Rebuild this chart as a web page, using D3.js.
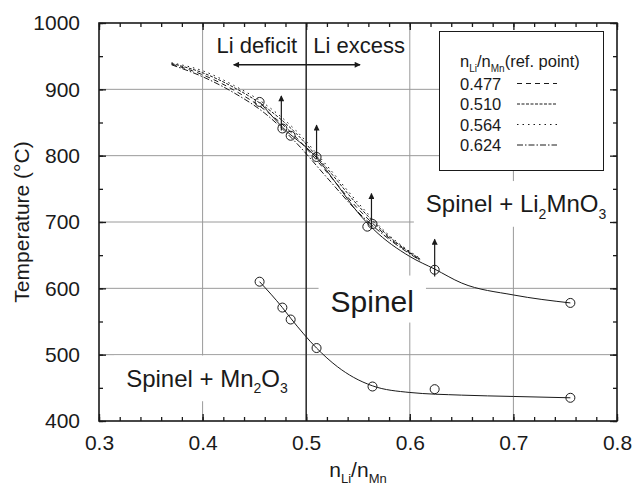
<!DOCTYPE html>
<html>
<head>
<meta charset="utf-8">
<script src="https://cdn.jsdelivr.net/npm/d3@7"></script>
<style>
body { margin: 0; background: #fff; }
svg { font-family: "Liberation Sans", Arial, sans-serif; }
</style>
</head>
<body>
<svg id="chart" width="635" height="489"></svg>
<script>
// axis ticks
var xTicks = [0.3, 0.4, 0.5, 0.6, 0.7, 0.8];
var yTicks = [400, 500, 600, 700, 800, 900, 1000];

// measured points (circles)
var upperRatio = [0.455, 0.477, 0.485, 0.510, 0.559, 0.564, 0.624, 0.755];
var upperTemp = [881, 841, 830, 798, 693, 697, 628, 578];
var lowerRatio = [0.455, 0.477, 0.485, 0.510, 0.564, 0.624, 0.755];
var lowerTemp = [610, 571, 553, 510, 452, 448, 435];

// fitted solid curves
var upperFitRatio = [0.455, 0.477, 0.51, 0.53, 0.55, 0.565, 0.6, 0.624, 0.65, 0.7, 0.755];
var upperFitTemp = [881, 843, 797, 756, 714, 689, 648, 629, 608, 590, 578];
var lowerFitRatio = [0.455, 0.477, 0.485, 0.51, 0.53, 0.5455, 0.564, 0.6, 0.65, 0.7, 0.755];
var lowerFitTemp = [610, 571, 555, 510, 482, 466, 453, 443, 439, 437, 435];

// calculated curves for each reference point
var refLabels = ["0.477", "0.510", "0.564", "0.624"];
var refRatio = [0.37, 0.40, 0.43, 0.46, 0.49, 0.52, 0.55, 0.58, 0.61];
var ref477 = [938, 922, 899, 869, 828, 775, 720, 676, 643];
var ref510 = [939, 925, 903, 874, 834, 781, 725, 678, 644];
var ref564 = [940, 928, 906, 878, 838, 785, 729, 680, 645];
var ref624 = [937, 919, 895, 864, 820, 767, 715, 674, 642];

// upward arrows at the reference points
var arrowRatio = [0.476, 0.510, 0.563, 0.624];
var arrowFrom = [838, 795, 690, 618];
var arrowTo = [890, 846, 743, 674];

var dashes = ["5,4", "3,1.5", "1.5,4", "6,2,1.5,2"];

var svg = d3.select('#chart');
var pLeft = 99, pRight = 617, pTop = 23, pBottom = 421;
var ink = '#1a1a1a';

var xScale = d3.scaleLinear().domain([0.3, 0.8]).range([pLeft, pRight]);
var yScale = d3.scaleLinear().domain([400, 1000]).range([pBottom, pTop]);

// grid
var grid = svg.append('g').attr('stroke', '#9a9a9a').attr('stroke-width', 1);
grid.selectAll('line.v')
    .data([0.4, 0.6, 0.7])
    .enter().append('line')
    .attr('x1', function(d){ return xScale(d); })
    .attr('x2', function(d){ return xScale(d); })
    .attr('y1', pTop).attr('y2', pBottom);
grid.selectAll('line.h')
    .data([500, 600, 700, 800, 900])
    .enter().append('line')
    .attr('y1', function(d){ return yScale(d); })
    .attr('y2', function(d){ return yScale(d); })
    .attr('x1', pLeft).attr('x2', pRight);

// white boxes behind the region labels
var boxes = svg.append('g');
var labels = svg.append('g').attr('fill', ink);

function label(x, y, size, parts) {
    var t = labels.append('text')
        .attr('x', xScale(x)).attr('y', yScale(y))
        .style('font-size', size + 'px');
    parts.forEach(function(p) {
        var s = t.append('tspan').text(p[0]);
        if (p[1] === 'sub') {
            s.style('font-size', Math.round(size * 0.6) + 'px').attr('dy', size * 0.28);
        } else if (p[1] === 'back') {
            s.attr('dy', -size * 0.28);
        }
    });
    return t;
}

var l1 = label(0.6155, 715, 24, [["Spinel + Li"], ["2", "sub"], ["MnO", "back"], ["3", "sub"]]);
var l2 = label(0.5235, 565, 30, [["Spinel"]]);
var l3 = label(0.3262, 452, 24, [["Spinel + Mn"], ["2", "sub"], ["O", "back"], ["3", "sub"]]);
[l1, l2, l3].forEach(function(t) {
    var b = t.node().getBBox();
    boxes.append('rect')
        .attr('x', b.x - 12).attr('y', b.y - 9)
        .attr('width', b.width + 24).attr('height', b.height + 14)
        .attr('fill', '#fff');
});

// legend background
svg.append('rect')
    .attr('x', 439).attr('y', pTop)
    .attr('width', pRight - 439).attr('height', 171 - pTop)
    .attr('fill', '#fff');

// Li/Mn = 0.5 boundary
svg.append('line')
    .attr('x1', xScale(0.5)).attr('x2', xScale(0.5))
    .attr('y1', pTop).attr('y2', pBottom)
    .attr('stroke', '#333').attr('stroke-width', 1.6);

var line = d3.line()
    .x(function(d){ return xScale(d[0]); })
    .y(function(d){ return yScale(d[1]); })
    .curve(d3.curveMonotoneX);

var plot = svg.append('g').attr('fill', 'none').attr('stroke', ink).attr('stroke-width', 1);

[ref477, ref510, ref564, ref624].forEach(function(temps, i) {
    plot.append('path')
        .attr('d', line(d3.zip(refRatio, temps)))
        .attr('stroke-dasharray', dashes[i]);
});
plot.append('path').attr('d', line(d3.zip(upperFitRatio, upperFitTemp)));
plot.append('path').attr('d', line(d3.zip(lowerFitRatio, lowerFitTemp)));

plot.selectAll('circle.u')
    .data(d3.zip(upperRatio, upperTemp))
    .enter().append('circle')
    .attr('cx', function(d){ return xScale(d[0]); })
    .attr('cy', function(d){ return yScale(d[1]); })
    .attr('r', 4.5);
plot.selectAll('circle.l')
    .data(d3.zip(lowerRatio, lowerTemp))
    .enter().append('circle')
    .attr('cx', function(d){ return xScale(d[0]); })
    .attr('cy', function(d){ return yScale(d[1]); })
    .attr('r', 4.5);

// arrows
var defs = svg.append('defs');
defs.append('marker')
    .attr('id', 'head').attr('viewBox', '0 0 10 10')
    .attr('refX', 9).attr('refY', 5)
    .attr('markerWidth', 8).attr('markerHeight', 6)
    .attr('markerUnits', 'userSpaceOnUse')
    .attr('orient', 'auto-start-reverse')
    .append('path').attr('d', 'M0,0 L10,5 L0,10 z').attr('fill', ink);

arrowRatio.forEach(function(r, i) {
    svg.append('line')
        .attr('x1', xScale(r)).attr('x2', xScale(r))
        .attr('y1', yScale(arrowFrom[i])).attr('y2', yScale(arrowTo[i]))
        .attr('stroke', ink).attr('stroke-width', 1.2)
        .attr('marker-end', 'url(#head)');
});
svg.append('line')
    .attr('x1', xScale(0.43)).attr('x2', xScale(0.552))
    .attr('y1', yScale(937)).attr('y2', yScale(937))
    .attr('stroke', ink).attr('stroke-width', 1.4)
    .attr('marker-start', 'url(#head)').attr('marker-end', 'url(#head)');

labels.append('text').attr('x', xScale(0.5) - 9).attr('y', yScale(955)).attr('text-anchor', 'end')
    .style('font-size', '22px').text('Li deficit');
labels.append('text').attr('x', xScale(0.5) + 7).attr('y', yScale(955))
    .style('font-size', '22px').text('Li excess');

// legend
var leg = svg.append('g');
leg.append('rect').attr('x', 439.5).attr('y', 31.5).attr('width', 164).attr('height', 139)
    .attr('fill', '#fff').attr('stroke', ink).attr('stroke-width', 1);
var lt = leg.append('text').attr('x', 460).attr('y', 67).attr('fill', ink).style('font-size', '16.5px');
lt.append('tspan').text('n');
lt.append('tspan').text('Li').style('font-size', '10px').attr('dy', 5);
lt.append('tspan').text('/n').attr('dy', -5);
lt.append('tspan').text('Mn').style('font-size', '10px').attr('dy', 5);
lt.append('tspan').text('(ref. point)').attr('dy', -5);
refLabels.forEach(function(name, i) {
    var y = 89.5 + i * 20.5;
    leg.append('text').attr('x', 460).attr('y', y).attr('fill', ink)
        .style('font-size', '16.5px').text(name);
    leg.append('line').attr('x1', 517).attr('x2', 557)
        .attr('y1', y - 6).attr('y2', y - 6)
        .attr('stroke', ink).attr('stroke-width', 1)
        .attr('stroke-dasharray', dashes[i]);
});

// axes with inward ticks on all four sides
function frame(axis, transform) {
    var g = svg.append('g').attr('transform', transform).call(axis);
    g.select('.domain').remove();
    g.selectAll('line').attr('stroke', ink).attr('stroke-width', 1.3);
    g.selectAll('text').attr('fill', ink).style('font-family', '"Liberation Sans", Arial, sans-serif');
    return g;
}
var xMinor = d3.range(0.3, 0.8001, 0.02);
var yMinor = d3.range(400, 1001, 50);

frame(d3.axisBottom(xScale).tickValues(xMinor).tickSize(-4).tickFormat(''), 'translate(0,' + pBottom + ')');
frame(d3.axisTop(xScale).tickValues(xMinor).tickSize(-4).tickFormat(''), 'translate(0,' + pTop + ')');
frame(d3.axisLeft(yScale).tickValues(yMinor).tickSize(-4).tickFormat(''), 'translate(' + pLeft + ',0)');
frame(d3.axisRight(yScale).tickValues(yMinor).tickSize(-4).tickFormat(''), 'translate(' + pRight + ',0)');

var xb = frame(d3.axisBottom(xScale).tickValues(xTicks).tickSize(-7).tickPadding(14).tickFormat(d3.format('.1f')),
    'translate(0,' + pBottom + ')');
xb.selectAll('text').style('font-size', '21px');
frame(d3.axisTop(xScale).tickValues(xTicks).tickSize(-7).tickFormat(''), 'translate(0,' + pTop + ')');
var yl = frame(d3.axisLeft(yScale).tickValues(yTicks).tickSize(-7).tickPadding(19).tickFormat(d3.format('d')),
    'translate(' + pLeft + ',0)');
yl.selectAll('text').style('font-size', '21px');
frame(d3.axisRight(yScale).tickValues(yTicks).tickSize(-7).tickFormat(''), 'translate(' + pRight + ',0)');

svg.append('rect').attr('x', pLeft).attr('y', pTop)
    .attr('width', pRight - pLeft).attr('height', pBottom - pTop)
    .attr('fill', 'none').attr('stroke', ink).attr('stroke-width', 1.6);

// axis titles
var xt = svg.append('text').attr('x', (pLeft + pRight) / 2).attr('y', 477)
    .attr('text-anchor', 'middle').attr('fill', ink).style('font-size', '21px');
xt.append('tspan').text('n');
xt.append('tspan').text('Li').style('font-size', '13px').attr('dy', 6);
xt.append('tspan').text('/n').attr('dy', -6);
xt.append('tspan').text('Mn').style('font-size', '13px').attr('dy', 6);

svg.append('text')
    .attr('transform', 'translate(29,' + ((pTop + pBottom) / 2) + ') rotate(-90)')
    .attr('text-anchor', 'middle').attr('fill', ink)
    .style('font-size', '21px')
    .text('Temperature (°C)');
</script>
</body>
</html>
